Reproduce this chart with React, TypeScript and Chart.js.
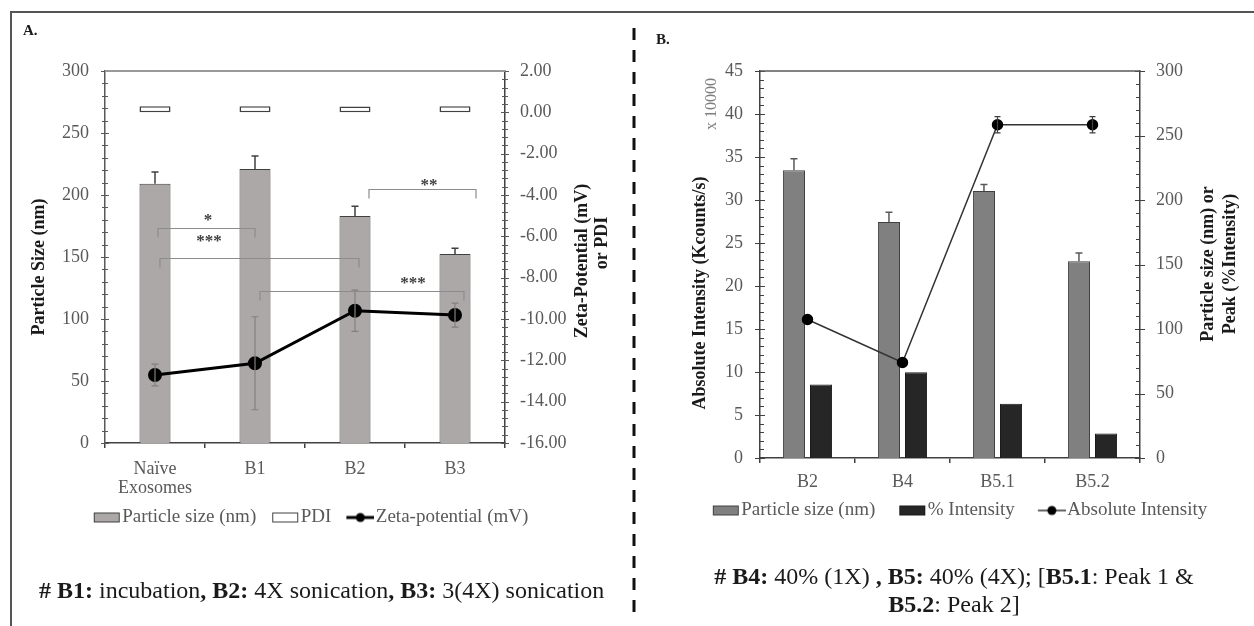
import React, { useEffect, useRef } from 'react';
import { Chart, registerables } from 'chart.js';
Chart.register(...registerables);

const SERIF = "'Liberation Serif', 'Times New Roman', serif";
const TICK_COLOR = '#595959';

// ---------- Panel A data ----------
const categoriesA: (string | string[])[] = [['Naïve', 'Exosomes'], 'B1', 'B2', 'B3'];
const particleSizeA = [209, 221, 183, 152.5];
const particleSizeErrA = [9.6, 10.5, 8, 4.6];
const pdiA = [0.3, 0.29, 0.28, 0.29];
const zetaA = [-12.71, -12.14, -9.6, -9.81];
const zetaErrA = [0.53, 2.25, 1.0, 0.58];
const sizeTicksA = [0, 50, 100, 150, 200, 250, 300];
const zetaTicksA = [2, 0, -2, -4, -6, -8, -10, -12, -14, -16];
const sigBracketsA = [
  { from: 0.03, to: 1.0, y: 173.4, label: '*', labelAt: 0.53, labelY: 182 },
  { from: 0.05, to: 2.04, y: 149.2, label: '***', labelAt: 0.54, labelY: 165 },
  { from: 2.14, to: 3.21, y: 204.8, label: '**', labelAt: 2.74, labelY: 210 },
  { from: 1.05, to: 3.09, y: 122.6, label: '***', labelAt: 2.58, labelY: 131 },
];

// ---------- Panel B data ----------
const categoriesB = ['B2', 'B4', 'B5.1', 'B5.2'];
const particleSizeB = [223, 183, 207, 152.5];
const particleSizeErrB = [9, 7.5, 5, 6.5];
const intensityPctB = [57, 66.5, 42, 19];
const absIntensityB = [16.1, 11.1, 38.75, 38.75];
const absIntensityErrB = [0, 0, 0.95, 0.95];
const leftTicksB = [0, 5, 10, 15, 20, 25, 30, 35, 40, 45];
const rightTicksB = [0, 50, 100, 150, 200, 250, 300];

function labelFrom(list: number[]) {
  return (v: any) => {
    const n = Number(v);
    const hit = list.find((t) => Math.abs(t - n) < 1e-6);
    return hit === undefined ? '' : hit;
  };
}

// legend swatch: visible 27px mark at the right end of a wider transparent image
function makeSwatch(kind: 'rect' | 'line', fill: string, stroke: string, lw: number, iw: number) {
  const c = document.createElement('canvas');
  c.width = iw;
  c.height = 12;
  const g = c.getContext('2d')!;
  const x0 = iw - 28;
  if (kind === 'rect') {
    g.fillStyle = fill;
    g.fillRect(x0 + 1, 1, 26, 10);
    g.strokeStyle = stroke;
    g.lineWidth = 1;
    g.strokeRect(x0 + 1.5, 1.5, 25, 9);
  } else {
    g.strokeStyle = stroke;
    g.lineWidth = lw;
    g.beginPath();
    g.moveTo(x0, 6);
    g.lineTo(x0 + 28, 6);
    g.stroke();
    g.fillStyle = fill;
    g.beginPath();
    g.arc(x0 + 14, 6, 4.5, 0, Math.PI * 2);
    g.fill();
  }
  return c;
}

const errorBarPlugin = {
  id: 'errorBars',
  afterDatasetsDraw(chart: any) {
    const ctx = chart.ctx;
    chart.data.datasets.forEach((ds: any, di: number) => {
      const eb = ds.errorBars;
      if (!eb) return;
      const meta = chart.getDatasetMeta(di);
      const ys = chart.scales[meta.yAxisID];
      meta.data.forEach((el: any, i: number) => {
        const e = eb.values[i];
        if (!e) return;
        const raw = ds.data[i];
        const v = Array.isArray(raw) ? raw[1] : raw;
        const x = el.x;
        const yTop = ys.getPixelForValue(v + e);
        const yBot = eb.dir === 'both' ? ys.getPixelForValue(v - e) : ys.getPixelForValue(v);
        ctx.save();
        ctx.strokeStyle = eb.color;
        ctx.lineWidth = eb.width;
        ctx.beginPath();
        ctx.moveTo(x, yTop);
        ctx.lineTo(x, yBot);
        ctx.moveTo(x - eb.cap, yTop);
        ctx.lineTo(x + eb.cap, yTop);
        if (eb.dir === 'both') {
          ctx.moveTo(x - eb.cap, yBot);
          ctx.lineTo(x + eb.cap, yBot);
        }
        ctx.stroke();
        ctx.restore();
      });
    });
  },
};

function makeCrossTicks(cfgs: any[]) {
  return {
    id: 'crossTicks',
    afterDraw(chart: any) {
      const ctx = chart.ctx;
      cfgs.forEach((cfg) => {
        const s = chart.scales[cfg.id];
        if (!s) return;
        const left = s.position === 'left';
        const x0 = left ? s.right : s.left;
        const dir = left ? 1 : -1;
        ctx.save();
        ctx.strokeStyle = cfg.color;
        ctx.lineWidth = 1;
        s.ticks.forEach((t: any) => {
          const y = Math.round(s.getPixelForValue(t.value)) + 0.5;
          const major = t.label !== '' && t.label !== undefined && t.label !== null;
          const inside = major ? cfg.majorIn : cfg.minorIn;
          const outside = major ? cfg.majorOut : cfg.minorOut;
          ctx.beginPath();
          ctx.moveTo(x0 - dir * outside, y);
          ctx.lineTo(x0 + dir * inside, y);
          ctx.stroke();
        });
        ctx.restore();
      });
    },
  };
}

function makeTopLine(color: string, width: number) {
  return {
    id: 'topLine',
    afterDraw(chart: any) {
      const { ctx, chartArea } = chart;
      ctx.save();
      ctx.strokeStyle = color;
      ctx.lineWidth = width;
      ctx.beginPath();
      ctx.moveTo(chartArea.left, chartArea.top);
      ctx.lineTo(chartArea.right, chartArea.top);
      ctx.stroke();
      ctx.restore();
    },
  };
}

// rotated (-90deg) titles; each line has its own centre (x, y)
function makeTitles(list: { text: string; x: number; y: number; font: string; color: string }[]) {
  return {
    id: 'axisTitles',
    afterDraw(chart: any) {
      const ctx = chart.ctx;
      list.forEach((t) => {
        ctx.save();
        ctx.translate(t.x, t.y);
        ctx.rotate(-Math.PI / 2);
        ctx.font = t.font;
        ctx.fillStyle = t.color;
        ctx.textAlign = 'center';
        ctx.textBaseline = 'middle';
        ctx.fillText(t.text, 0, 0);
        ctx.restore();
      });
    },
  };
}

function makeBrackets(list: typeof sigBracketsA) {
  return {
    id: 'sigBrackets',
    afterDatasetsDraw(chart: any) {
      const ctx = chart.ctx;
      const xs = chart.scales.x;
      const ys = chart.scales.y;
      list.forEach((b) => {
        const x1 = xs.getPixelForValue(b.from);
        const x2 = xs.getPixelForValue(b.to);
        const y = Math.round(ys.getPixelForValue(b.y)) + 0.5;
        ctx.save();
        ctx.strokeStyle = '#8c8c8c';
        ctx.lineWidth = 1.2;
        ctx.beginPath();
        ctx.moveTo(x1, y + 9);
        ctx.lineTo(x1, y);
        ctx.lineTo(x2, y);
        ctx.lineTo(x2, y + 9);
        ctx.stroke();
        ctx.fillStyle = '#404040';
        ctx.font = `bold 17px ${SERIF}`;
        ctx.textAlign = 'center';
        ctx.textBaseline = 'middle';
        ctx.fillText(b.label, xs.getPixelForValue(b.labelAt), ys.getPixelForValue(b.labelY) + 3);
        ctx.restore();
      });
    },
  };
}

function legendOptions(swatches: HTMLCanvasElement[], boxW: number) {
  return {
    display: true,
    position: 'bottom' as const,
    labels: {
      usePointStyle: true,
      pointStyleWidth: boxW,
      boxHeight: 10,
      padding: 10,
      color: TICK_COLOR,
      font: { family: SERIF, size: 19 },
      generateLabels: (chart: any) =>
        chart.data.datasets.map((ds: any, i: number) => ({
          text: ds.label,
          datasetIndex: i,
          pointStyle: swatches[i],
          fillStyle: '#000',
          strokeStyle: '#000',
          lineWidth: 0,
          hidden: false,
          fontColor: TICK_COLOR,
        })),
    },
  };
}

export default function App() {
  const refA = useRef<HTMLCanvasElement>(null);
  const refB = useRef<HTMLCanvasElement>(null);

  useEffect(() => {
    Chart.defaults.font.family = SERIF;
    const tickFont = { family: SERIF, size: 18 };
    const titleFont = `bold 18px ${SERIF}`;

    const bwA = 25;
    const swatchesA = [
      makeSwatch('rect', '#aca8a7', '#404040', 1, bwA + 16),
      makeSwatch('rect', '#ffffff', '#404040', 1, bwA + 16),
      makeSwatch('line', '#000000', '#000000', 3, bwA + 16),
    ];
    const chartA = new Chart(refA.current!, {
      type: 'bar',
      data: {
        labels: categoriesA as any,
        datasets: [
          {
            type: 'bar',
            label: 'Particle size (nm)',
            data: particleSizeA,
            yAxisID: 'y',
            backgroundColor: '#aca8a7',
            borderColor: '#404040',
            borderWidth: 1,
            barPercentage: 0.31,
            categoryPercentage: 1,
            grouped: false,
            order: 3,
            errorBars: { values: particleSizeErrA, dir: 'up', color: '#404040', width: 1.5, cap: 3.5 },
          } as any,
          {
            type: 'bar',
            label: 'PDI',
            data: pdiA.map((v) => [0, v]),
            yAxisID: 'yZ',
            backgroundColor: '#ffffff',
            borderColor: '#404040',
            borderWidth: 1.5,
            borderSkipped: false,
            barPercentage: 0.31,
            categoryPercentage: 1,
            grouped: false,
            order: 2,
          } as any,
          {
            type: 'line',
            label: 'Zeta-potential (mV)',
            data: zetaA,
            yAxisID: 'yZ',
            borderColor: '#000000',
            borderWidth: 3,
            pointRadius: 5.5,
            pointBackgroundColor: '#000000',
            pointBorderColor: '#000000',
            order: 1,
            errorBars: { values: zetaErrA, dir: 'both', color: '#808080', width: 1.2, cap: 3.5 },
          } as any,
        ],
      },
      options: {
        responsive: false,
        animation: false,
        events: [],
        layout: { padding: { left: 10, right: 30, top: 71, bottom: 89 } },
        plugins: {
          tooltip: { enabled: false },
          legend: legendOptions(swatchesA, bwA) as any,
        },
        scales: {
          x: {
            type: 'category',
            offset: true,
            grid: { display: true, drawOnChartArea: false, drawTicks: true, tickLength: 5, color: '#404040', lineWidth: 1.5, offset: true },
            border: { display: true, color: '#404040', width: 1.5 },
            ticks: { color: TICK_COLOR, font: { ...tickFont, lineHeight: 1.1 }, padding: 11, maxRotation: 0, autoSkip: false },
            afterFit: (s: any) => { s.height = 55; },
          },
          y: {
            type: 'linear',
            position: 'left',
            min: 0,
            max: 300,
            grid: { display: false, drawTicks: false },
            border: { display: true, color: '#595959', width: 1.5 },
            ticks: { stepSize: 10, autoSkip: false, color: TICK_COLOR, font: tickFont, padding: 16, callback: labelFrom(sizeTicksA) },
            afterFit: (s: any) => { s.width = 95; },
          },
          yZ: {
            type: 'linear',
            position: 'right',
            min: -16,
            max: 2,
            grid: { display: false, drawTicks: false },
            border: { display: true, color: '#404040', width: 1.5 },
            ticks: {
              stepSize: 0.4,
              autoSkip: false,
              color: TICK_COLOR,
              font: tickFont,
              padding: 15,
              callback: (v: any) => {
                const r = labelFrom(zetaTicksA)(v);
                return r === '' ? '' : (r as number).toFixed(2);
              },
            },
            afterFit: (s: any) => { s.width = 101; },
          },
        },
      } as any,
      plugins: [
        errorBarPlugin,
        makeBrackets(sigBracketsA),
        makeCrossTicks([
          { id: 'y', color: '#595959', majorIn: 4, majorOut: 4, minorIn: 3, minorOut: 3 },
          { id: 'yZ', color: '#595959', majorIn: 4, majorOut: 4, minorIn: 3, minorOut: 3 },
        ]),
        makeTopLine('#999999', 2),
        makeTitles([
          { text: 'Particle Size (nm)', x: 39, y: 267, font: titleFont, color: '#1a1a1a' },
          { text: 'Zeta-Potential (mV)', x: 582, y: 261, font: titleFont, color: '#1a1a1a' },
          { text: 'or PDI', x: 602, y: 243, font: titleFont, color: '#1a1a1a' },
        ]),
      ] as any,
    });

    const bwB = 33;
    const swatchesB = [
      makeSwatch('rect', '#808080', '#404040', 1, bwB + 16),
      makeSwatch('rect', '#262626', '#1a1a1a', 1, bwB + 16),
      makeSwatch('line', '#000000', '#333333', 1.5, bwB + 16),
    ];
    const chartB = new Chart(refB.current!, {
      type: 'bar',
      data: {
        labels: categoriesB,
        datasets: [
          {
            type: 'bar',
            label: 'Particle size (nm)',
            data: particleSizeB,
            yAxisID: 'yR',
            backgroundColor: '#808080',
            borderColor: '#404040',
            borderWidth: 1,
            barPercentage: 0.815,
            categoryPercentage: 0.57,
            order: 2,
            errorBars: { values: particleSizeErrB, dir: 'up', color: '#595959', width: 1.5, cap: 3.5 },
          } as any,
          {
            type: 'bar',
            label: '% Intensity',
            data: intensityPctB,
            yAxisID: 'yR',
            backgroundColor: '#262626',
            borderColor: '#1a1a1a',
            borderWidth: 1,
            barPercentage: 0.815,
            categoryPercentage: 0.57,
            order: 2,
          } as any,
          {
            type: 'line',
            label: 'Absolute Intensity',
            data: absIntensityB,
            yAxisID: 'yL',
            borderColor: '#333333',
            borderWidth: 1.5,
            pointRadius: 5,
            pointBackgroundColor: '#000000',
            pointBorderColor: '#000000',
            order: 1,
            errorBars: { values: absIntensityErrB, dir: 'both', color: '#404040', width: 1.2, cap: 3 },
          } as any,
        ],
      },
      options: {
        responsive: false,
        animation: false,
        events: [],
        layout: { padding: { left: 26, right: 10, top: 71, bottom: 96 } },
        plugins: {
          tooltip: { enabled: false },
          legend: legendOptions(swatchesB, bwB) as any,
        },
        scales: {
          x: {
            type: 'category',
            offset: true,
            grid: { display: true, drawOnChartArea: false, drawTicks: true, tickLength: 5, color: '#404040', lineWidth: 1.5, offset: true },
            border: { display: true, color: '#404040', width: 1.5 },
            ticks: { color: TICK_COLOR, font: tickFont, padding: 8, maxRotation: 0, autoSkip: false },
            afterFit: (s: any) => { s.height = 33; },
          },
          yL: {
            type: 'linear',
            position: 'left',
            min: 0,
            max: 45,
            grid: { display: false, drawTicks: false },
            border: { display: true, color: '#404040', width: 1.5 },
            ticks: { stepSize: 1, autoSkip: false, color: TICK_COLOR, font: tickFont, padding: 17, callback: labelFrom(leftTicksB) },
            afterFit: (s: any) => { s.width = 98; },
          },
          yR: {
            type: 'linear',
            position: 'right',
            min: 0,
            max: 300,
            grid: { display: false, drawTicks: false },
            border: { display: true, color: '#404040', width: 1.5 },
            ticks: { stepSize: 10, autoSkip: false, color: TICK_COLOR, font: tickFont, padding: 16, callback: labelFrom(rightTicksB) },
            afterFit: (s: any) => { s.width = 104; },
          },
        },
      } as any,
      plugins: [
        errorBarPlugin,
        makeCrossTicks([
          { id: 'yL', color: '#404040', majorIn: 5, majorOut: 5, minorIn: 4, minorOut: 0 },
          { id: 'yR', color: '#404040', majorIn: 5, majorOut: 5, minorIn: 4, minorOut: 0 },
        ]),
        makeTopLine('#595959', 1.5),
        makeTitles([
          { text: 'Absolute Intensity (Kcounts/s)', x: 64, y: 293, font: titleFont, color: '#1a1a1a' },
          { text: 'x 10000', x: 76, y: 104, font: `16px ${SERIF}`, color: '#7f7f7f' },
          { text: 'Particle size (nm) or', x: 572, y: 264, font: titleFont, color: '#1a1a1a' },
          { text: 'Peak (%Intensity)', x: 594, y: 264, font: titleFont, color: '#1a1a1a' },
        ]),
      ] as any,
    });

    return () => {
      chartA.destroy();
      chartB.destroy();
    };
  }, []);

  return (
    <div
      style={{
        position: 'absolute',
        left: 0,
        top: 0,
        width: 1254,
        height: 626,
        background: '#ffffff',
        overflow: 'hidden',
        fontFamily: SERIF,
        color: '#1a1a1a',
      }}
    >
      <div style={{ position: 'absolute', left: 10, top: 11, width: 1244, height: 2, background: '#555555' }} />
      <div style={{ position: 'absolute', left: 10, top: 11, width: 2, height: 615, background: '#555555' }} />
      <svg style={{ position: 'absolute', left: 631, top: 0 }} width={6} height={626}>
        <line x1={3} y1={28} x2={3} y2={616} stroke="#111111" strokeWidth={3} strokeDasharray="12 10" />
      </svg>
      <div style={{ position: 'absolute', left: 0, top: 0, width: 636, height: 626 }}>
        <canvas ref={refA} width={636} height={626} style={{ width: 636, height: 626, display: 'block' }} />
      </div>
      <div style={{ position: 'absolute', left: 636, top: 0, width: 618, height: 626 }}>
        <canvas ref={refB} width={618} height={626} style={{ width: 618, height: 626, display: 'block' }} />
      </div>
      <div style={{ position: 'absolute', left: 23, top: 21, fontSize: 15, fontWeight: 'bold', lineHeight: '18px' }}>A.</div>
      <div style={{ position: 'absolute', left: 656, top: 30, fontSize: 15, fontWeight: 'bold', lineHeight: '18px' }}>B.</div>
      <div style={{ position: 'absolute', left: 39, top: 576, fontSize: 24, lineHeight: '28px', whiteSpace: 'nowrap' }}>
        <b>#</b> <b>B1:</b> incubation<b>,</b> <b>B2:</b> 4X sonication<b>,</b> <b>B3:</b> 3(4X) sonication
      </div>
      <div
        style={{
          position: 'absolute',
          left: 654,
          top: 562,
          width: 600,
          textAlign: 'center',
          fontSize: 24,
          lineHeight: '28px',
        }}
      >
        <b># B4:</b> 40% (1X) <b>, B5:</b> 40% (4X); [<b>B5.1</b>: Peak 1 &amp;
        <br />
        <b>B5.2</b>: Peak 2]
      </div>
    </div>
  );
}
